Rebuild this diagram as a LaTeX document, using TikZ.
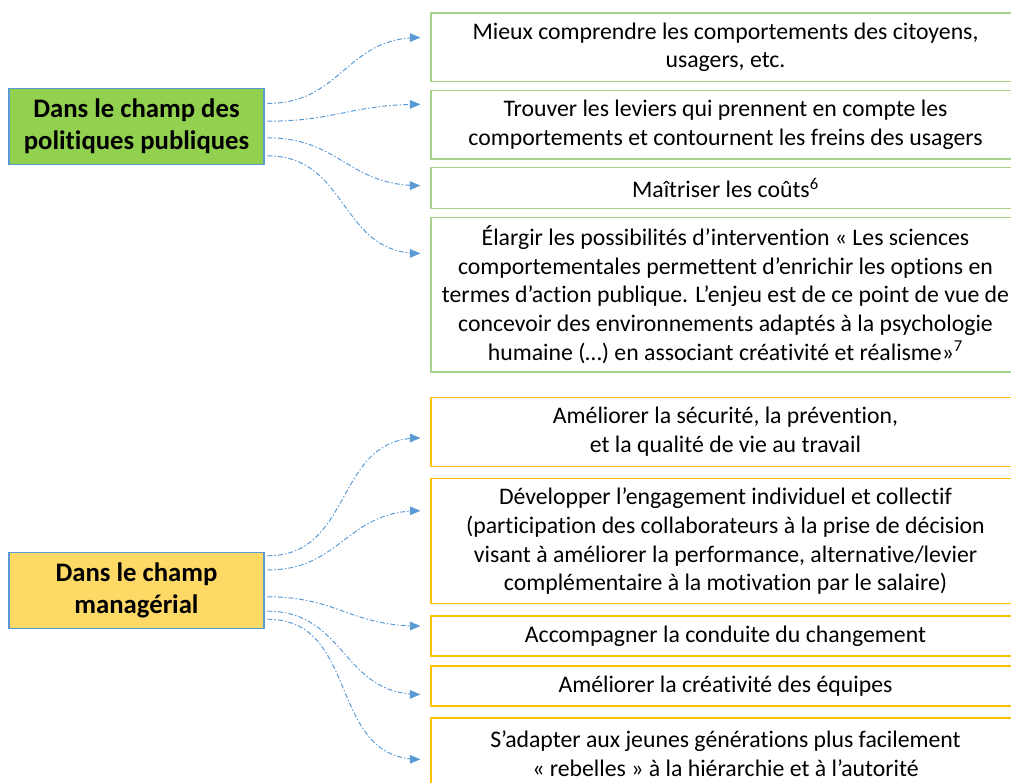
\documentclass[tikz,border=0pt]{standalone}
\usepackage{fontspec}
\setmainfont{Carlito}[RawFeature={-liga;-clig;-dlig;-calt}]
\usepackage{tikz}
\usetikzlibrary{arrows}
\definecolor{vertchamp}{HTML}{92D050}
\definecolor{jaunechamp}{HTML}{FFD966}
\definecolor{bleucadre}{HTML}{5B9BD5}
\definecolor{vertcadre}{HTML}{A9D18E}
\definecolor{jaunecadre}{HTML}{FFC000}
\definecolor{bleufleche}{HTML}{5B9BD5}

\begin{document}
\begin{tikzpicture}[
    champ/.style={draw=bleucadre, line width=0.9pt, minimum width=6.375cm, minimum height=1.9cm, align=center, inner sep=0pt, font=\fontsize{19}{22.8}\selectfont\bfseries},
    objectif/.style={line width=0.9pt, minimum width=14.725cm, align=center, inner sep=0pt, font=\fontsize{16.9}{20.4}\selectfont},
    fleche/.style={bleufleche, line width=0.7pt, dash pattern=on 3.5pt off 1.5pt on 1pt off 1.5pt, -triangle 45, out=0, in=180, looseness=1.15}
]
    \useasboundingbox (0,0) rectangle (25.275,-19.575);
    % les deux champs
    \node[champ, fill=vertchamp] (pol) at (3.4125,-3.16) {Dans le champ des\\politiques publiques};
    \node[champ, fill=jaunechamp] (man) at (3.4125,-14.76) {Dans le champ\\managérial};
    % objectifs : politiques publiques
    \node[objectif, draw=vertcadre, minimum height=1.7125cm] (comprendre) at (18.1375,-1.18) {Mieux comprendre les comportements des citoyens,\\usagers, etc.};
    \node[objectif, draw=vertcadre, minimum height=1.71cm] (leviers) at (18.1375,-3.12) {Trouver les leviers qui prennent en compte les\\comportements et contournent les freins des usagers};
    \node[objectif, draw=vertcadre, minimum height=1.015cm] (couts) at (18.1375,-4.7) {Maîtriser les coûts\textsuperscript{6}};
    \node[objectif, draw=vertcadre, minimum height=3.87cm] (elargir) at (18.1375,-7.365) {Élargir les possibilités d’intervention « Les sciences\\comportementales permettent d’enrichir les options en\\termes d’action publique. L’enjeu est de ce point de vue de\\concevoir des environnements adaptés à la psychologie\\humaine (…) en associant créativité et réalisme»\textsuperscript{7}};
    % objectifs : managérial
    \node[objectif, draw=jaunecadre, minimum height=1.71cm] (securite) at (18.1375,-10.8) {Améliorer la sécurité, la prévention,\\et la qualité de vie au travail};
    \node[objectif, draw=jaunecadre, minimum height=3.13cm] (engagement) at (18.1375,-13.53) {Développer l’engagement individuel et collectif\\(participation des collaborateurs à la prise de décision\\visant à améliorer la performance, alternative/levier\\complémentaire à la motivation par le salaire)};
    \node[objectif, draw=jaunecadre, minimum height=1cm] (changement) at (18.1375,-15.9) {Accompagner la conduite du changement};
    \node[objectif, draw=jaunecadre, minimum height=1cm] (creativite) at (18.1375,-17.15) {Améliorer la créativité des équipes};
    \node[objectif, draw=jaunecadre, minimum height=1.775cm] (generations) at (18.1375,-18.8375) {S’adapter aux jeunes générations plus facilement\\« rebelles » à la hiérarchie et à l’autorité};
    % fleches
    \draw[fleche] ([xshift=0.07cm,yshift=0.575cm]pol.east) to ([xshift=-0.25cm,yshift=0.24cm]comprendre.west);
    \draw[fleche] ([xshift=0.07cm,yshift=0.13cm]pol.east) to ([xshift=-0.25cm,yshift=0.51cm]leviers.west);
    \draw[fleche] ([xshift=0.07cm,yshift=-0.285cm]pol.east) to ([xshift=-0.25cm,yshift=0.06cm]couts.west);
    \draw[fleche] ([xshift=0.07cm,yshift=-0.735cm]pol.east) to ([xshift=-0.25cm,yshift=1.03cm]elargir.west);
    \draw[fleche] ([xshift=0.07cm,yshift=0.865cm]man.east) to ([xshift=-0.25cm,yshift=-0.15cm]securite.west);
    \draw[fleche] ([xshift=0.07cm,yshift=0.51cm]man.east) to ([xshift=-0.25cm,yshift=0.76cm]engagement.west);
    \draw[fleche] ([xshift=0.07cm,yshift=-0.16cm]man.east) to ([xshift=-0.25cm,yshift=0.25cm]changement.west);
    \draw[fleche] ([xshift=0.07cm,yshift=-0.52cm]man.east) to ([xshift=-0.25cm,yshift=-0.21cm]creativite.west);
    \draw[fleche] ([xshift=0.07cm,yshift=-0.72cm]man.east) to ([xshift=-0.25cm,yshift=-0.145cm]generations.west);
\end{tikzpicture}
\end{document}
